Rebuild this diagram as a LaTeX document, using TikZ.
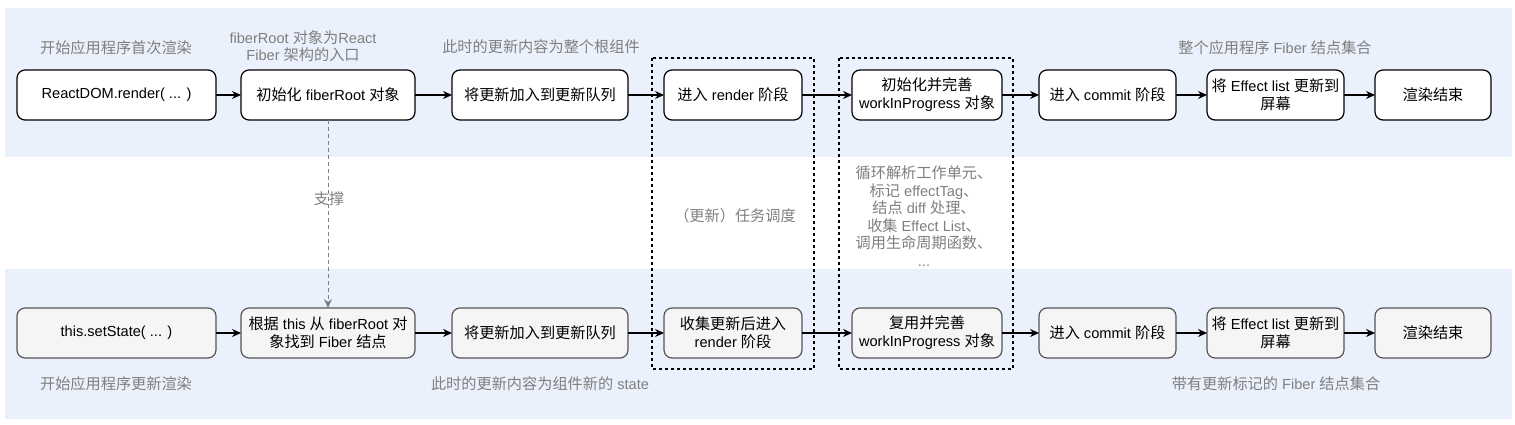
\documentclass[tikz,border=0pt]{standalone}
\usepackage{fontspec}
\setmainfont{Liberation Sans}
\newfontfamily\zhfont[Scale=1.04]{Noto Sans CJK SC}
\newcommand\zh[1]{{\zhfont #1}}
\usetikzlibrary{arrows.meta}
\definecolor{bandblue}{HTML}{EBF1FC}
\definecolor{lblgrey}{HTML}{7F7F7F}
\definecolor{boxgrey}{HTML}{F5F5F5}
\definecolor{bordergrey}{HTML}{555555}
\tikzset{
  box/.style={draw=black, fill=white, rounded corners=8pt, line width=1.2pt,
    minimum height=50pt, align=center, inner sep=3pt, outer sep=0pt,
    font=\fontsize{14.6}{18}\selectfont},
  gbox/.style={box, draw=bordergrey, fill=boxgrey},
  lbl/.style={text=lblgrey, align=center, inner sep=0pt,
    font=\fontsize{14.6}{17.5}\selectfont},
  flow/.style={line width=1.2pt, -{Stealth[length=9pt,width=8pt]}},
  support/.style={draw=lblgrey, line width=1pt, dash pattern=on 4pt off 3pt,
    -{Stealth[length=9pt,width=8pt]}, lblgrey},
  dashbox/.style={draw=black, line width=1.2pt, dash pattern=on 3pt off 3pt},
}
\begin{document}
\begin{tikzpicture}[x=1pt,y=-1pt]
\useasboundingbox (0,0) rectangle (1515,425);
% bands
\fill[bandblue] (5,8) rectangle (1512,157);
\fill[bandblue] (5,269) rectangle (1512,419);

% top row
\node[box, minimum width=199pt] (t1) at (116.5,95) {ReactDOM.render( ... )};
\node[box, minimum width=174pt] (t2) at (328,95) {\zh{初始化} fiberRoot \zh{对象}};
\node[box, minimum width=176pt] (t3) at (540,95) {\zh{将更新加入到更新队列}};
\node[box, minimum width=138pt] (t4) at (733,95) {\zh{进入} render \zh{阶段}};
\node[box, minimum width=150pt] (t5) at (927,95) {\zh{初始化并完善}\\workInProgress \zh{对象}};
\node[box, minimum width=137pt] (t6) at (1107.5,95) {\zh{进入} commit \zh{阶段}};
\node[box, minimum width=137pt] (t7) at (1275.5,95) {\zh{将} Effect list \zh{更新到}\\\zh{屏幕}};
\node[box, minimum width=116pt] (t8) at (1433,95) {\zh{渲染结束}};

% bottom row
\node[gbox, minimum width=199pt] (b1) at (116.5,333) {this.setState( ... )};
\node[gbox, minimum width=174pt] (b2) at (328,333) {\zh{根据} this \zh{从} fiberRoot \zh{对}\\\zh{象找到} Fiber \zh{结点}};
\node[gbox, minimum width=176pt] (b3) at (540,333) {\zh{将更新加入到更新队列}};
\node[gbox, minimum width=138pt] (b4) at (733,333) {\zh{收集更新后进入}\\render \zh{阶段}};
\node[gbox, minimum width=150pt] (b5) at (927,333) {\zh{复用并完善}\\workInProgress \zh{对象}};
\node[gbox, minimum width=137pt] (b6) at (1107.5,333) {\zh{进入} commit \zh{阶段}};
\node[gbox, minimum width=137pt] (b7) at (1275.5,333) {\zh{将} Effect list \zh{更新到}\\\zh{屏幕}};
\node[gbox, minimum width=116pt] (b8) at (1433,333) {\zh{渲染结束}};

% dashed groups
\draw[dashbox] (652,58) rectangle (814,369);
\draw[dashbox] (839,58) rectangle (1013,369);

% flows
\foreach \a/\b in {t1/t2,t2/t3,t3/t4,t4/t5,t5/t6,t6/t7,t7/t8,b1/b2,b2/b3,b3/b4,b4/b5,b5/b6,b6/b7,b7/b8}
  \draw[flow] (\a.east) -- (\b.west);

% support
\draw[support] (t2.south) -- (b2.north);
\node[lbl] (sup) at (329,199) {\zh{支撑}};

% labels
\node[lbl] (l1) at (116,48) {\zh{开始应用程序首次渲染}};
\node[lbl] (l2) at (303,46) {fiberRoot \zh{对象为}React\\Fiber \zh{架构的入口}};
\node[lbl] (l3) at (541,47) {\zh{此时的更新内容为整个根组件}};
\node[lbl] (l4) at (1275,48) {\zh{整个应用程序} Fiber \zh{结点集合}};
\node[lbl] (l5) at (735,216) {\zh{（更新）任务调度}};
\node[lbl] (l6) at (924,216) {\zh{循环解析工作单元、}\\\zh{标记} effectTag\zh{、}\\\zh{结点} diff \zh{处理、}\\\zh{收集} Effect List\zh{、}\\\zh{调用生命周期函数、}\\...};
\node[lbl] (l7) at (116,384) {\zh{开始应用程序更新渲染}};
\node[lbl] (l8) at (540,384) {\zh{此时的更新内容为组件新的} state};
\node[lbl] (l9) at (1276,384) {\zh{带有更新标记的} Fiber \zh{结点集合}};
\end{tikzpicture}
\end{document}
